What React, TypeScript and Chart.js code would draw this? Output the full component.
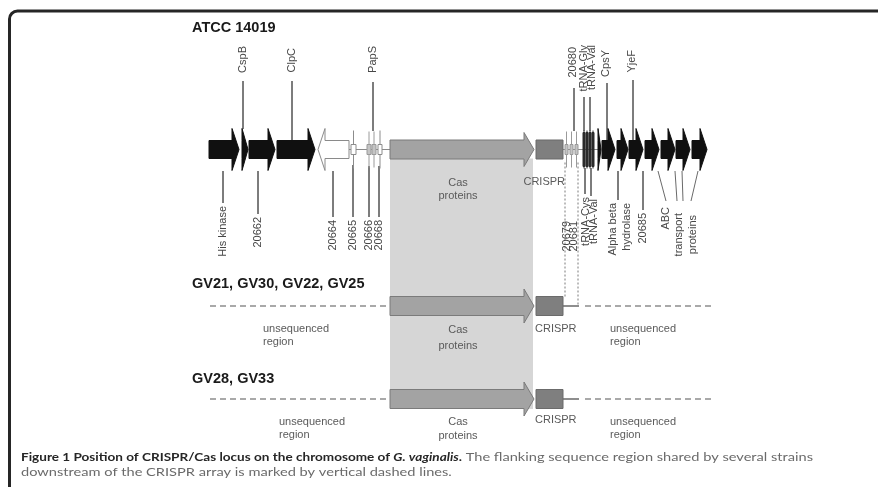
import React, { useEffect, useRef } from "react";
import { Chart, registerables } from "chart.js";

Chart.register(...registerables);

// ---------------- DATA ----------------
const STRAINS = ["ATCC 14019", "GV21, GV30, GV22, GV25", "GV28, GV33"];

// ATCC 14019 locus: genes along the chromosome (locus position units)
const GENE_NAMES = [
  "His kinase", "CspB", "20662", "ClpC", "20664", "20665", "PapS", "20666", "20668",
  "Cas proteins", "CRISPR", "20679", "20680", "20681", "tRNA-Gly", "tRNA-Cys", "tRNA-Val", "tRNA-Val",
  "orf", "CpsY", "Alpha beta hydrolase", "YjeF", "20685", "ABC transport 1", "ABC transport 2", "ABC transport 3",
];
const GENE_START = [209, 242, 249, 277, 318, 351, 367, 372, 378, 390, 536, 565, 570, 575, 583, 586, 589, 592, 598, 602, 617, 629, 645, 661, 676, 692];
const GENE_END = [239, 248, 275, 315, 349, 356, 371, 376, 382, 534, 563, 568, 573, 578, 585, 588, 591, 594, 601, 615, 628, 643, 659, 675, 690, 707];
const GENE_STRAND = [1, 1, 1, 1, -1, 0, 0, 0, 0, 1, 0, 0, 0, 0, 0, 0, 0, 0, 1, 1, 1, 1, 1, 1, 1, 1];
const GENE_KIND = [
  "black", "black", "black", "black", "white", "smallWhite", "smallGray", "smallGray", "smallWhite",
  "cas", "crispr", "smallGray", "smallGray", "smallGray", "trna", "trna", "trna", "trna",
  "black", "black", "black", "black", "black", "black", "black", "black",
];
const BACKBONE = [[349, 390], [563, 601]];

// other strains: genes shared with ATCC 14019 and flanking regions
const SHARED_GENES = [9, 10];
const SEQUENCED_FLANK = [563, 579];
const UNSEQ_LEFT = [210, 390];
const UNSEQ_RIGHT = [585, 714];
const SHARED_BOUNDARY = [565, 578];

// labels above / below ATCC 14019
const TOP_LABELS = ["CspB", "ClpC", "PapS", "20680", "tRNA-Gly", "tRNA-Val", "CpsY", "YjeF"];
const TOP_LABEL_X = [243, 292, 373, 573, 584, 592, 606, 632];
const TOP_LABEL_TOP = [46, 48, 46, 47, 45, 45, 50, 50];
const TOP_LEADER_X = [243, 292, 373, 574, 584, 590, 607, 633];
const TOP_LEADER_Y0 = [81, 81, 82, 88, 97, 97, 83, 80];
const TOP_LEADER_Y1 = [129, 140, 131, 131, 131, 131, 140, 140];

const BOTTOM_LABELS = ["His kinase", "20662", "20664", "20665", "20666", "20668", "20679", "20681", "tRNA-Cys", "tRNA-Val", "Alpha beta", "hydrolase", "20685", "ABC", "transport", "proteins"];
const BOTTOM_LABEL_X = [223, 258, 333, 353, 369, 379, 567, 574, 586, 594, 613, 627, 643, 666, 679, 693];
const BOTTOM_LABEL_TOP = [206, 217, 220, 220, 220, 220, 221, 221, 197, 199, 203, 203, 213, 207, 213, 215];
const BOTTOM_LEADERS = [
  [223, 171, 223, 203], [258, 171, 258, 214], [333, 171, 333, 217], [353, 165, 353, 217],
  [369, 166, 369, 217], [379, 166, 379, 217], [585, 168, 585, 194], [591, 168, 591, 196],
  [618, 171, 618, 200], [643, 171, 643, 210],
  [658, 171, 666, 201], [675, 171, 677, 201], [682, 171, 683, 201], [698, 171, 691, 201],
];

const CAPTION_BOLD = "Figure 1 Position of CRISPR/Cas locus on the chromosome of ";
const CAPTION_ITALIC = "G. vaginalis";
const CAPTION_REST1 = " The flanking sequence region shared by several strains";
const CAPTION_REST2 = "downstream of the CRISPR array is marked by vertical dashed lines.";

// ---------------- LAYOUT / STYLE ----------------
const W = 878;
const H = 487;
const ROW_Y = [149.5, 306, 399];
const ROW_TITLE_Y = [28, 284, 379];
const TITLE_X = 192;
const LABEL_FONT = "11px 'Liberation Sans', Arial, sans-serif";
const LABEL_COLOR = "#474747";
const NOTE_COLOR = "#5a5a5a";

const STYLE: Record<string, any> = {
  black: { fill: "#101010", stroke: "#101010", bh: 9, hh: 21, hl: 7 },
  white: { fill: "#ffffff", stroke: "#8a8a8a", bh: 9, hh: 21, hl: 7 },
  cas: { fill: "#a3a3a3", stroke: "#7b7b7b", bh: 9.5, hh: 17, hl: 10 },
  crispr: { fill: "#7f7f7f", stroke: "#6b6b6b", bh: 9.5, hh: 9.5, hl: 0 },
  smallGray: { fill: "#c4c4c4", stroke: "#9a9a9a", bh: 5, hh: 18, hl: 0 },
  smallWhite: { fill: "#ffffff", stroke: "#8c8c8c", bh: 5, hh: 19, hl: 0 },
  trna: { fill: "#2a2a2a", stroke: "#2a2a2a", bh: 17, hh: 19, hl: 0 },
};

function arrowPath(ctx: CanvasRenderingContext2D, x0: number, x1: number, yc: number, bh: number, hh: number, hl: number, strand: number) {
  ctx.beginPath();
  if (strand === 0 || hl === 0) {
    ctx.rect(x0, yc - bh, x1 - x0, 2 * bh);
    return;
  }
  const h = Math.min(hl, x1 - x0);
  if (strand > 0) {
    const b = x1 - h;
    ctx.moveTo(x0, yc - bh);
    ctx.lineTo(b, yc - bh);
    ctx.lineTo(b, yc - hh);
    ctx.lineTo(x1, yc);
    ctx.lineTo(b, yc + hh);
    ctx.lineTo(b, yc + bh);
    ctx.lineTo(x0, yc + bh);
  } else {
    const b = x0 + h;
    ctx.moveTo(x1, yc - bh);
    ctx.lineTo(b, yc - bh);
    ctx.lineTo(b, yc - hh);
    ctx.lineTo(x0, yc);
    ctx.lineTo(b, yc + hh);
    ctx.lineTo(b, yc + bh);
    ctx.lineTo(x1, yc + bh);
  }
  ctx.closePath();
}

function drawGene(ctx: CanvasRenderingContext2D, X: (v: number) => number, Y: (v: number) => number, i: number, row: number) {
  const st = STYLE[GENE_KIND[i]];
  const x0 = X(GENE_START[i]);
  const x1 = X(GENE_END[i]);
  const yc = Y(ROW_Y[row]);
  const kind = GENE_KIND[i];
  ctx.save();
  ctx.lineWidth = 1;
  if (kind === "smallGray" || kind === "smallWhite" || kind === "trna") {
    const xm = (x0 + x1) / 2;
    ctx.strokeStyle = st.stroke;
    ctx.beginPath();
    ctx.moveTo(xm, yc - st.hh);
    ctx.lineTo(xm, yc + st.hh);
    ctx.stroke();
  }
  arrowPath(ctx, x0, x1, yc, st.bh, st.hh, st.hl, GENE_STRAND[i]);
  ctx.fillStyle = st.fill;
  ctx.fill();
  ctx.strokeStyle = st.stroke;
  ctx.stroke();
  ctx.restore();
}

function vText(ctx: CanvasRenderingContext2D, text: string, x: number, y: number, align: CanvasTextAlign) {
  ctx.save();
  ctx.translate(x, y);
  ctx.rotate(-Math.PI / 2);
  ctx.textAlign = align;
  ctx.textBaseline = "middle";
  ctx.fillText(text, 0, 0);
  ctx.restore();
}

function hText(ctx: CanvasRenderingContext2D, lines: string[], x: number, y: number, align: CanvasTextAlign, gap: number) {
  ctx.textAlign = align;
  ctx.textBaseline = "middle";
  lines.forEach((l, k) => ctx.fillText(l, x, y + k * gap));
}

const diagramPlugin = {
  id: "geneDiagram",
  beforeDraw(chart: any) {
    const ctx = chart.ctx as CanvasRenderingContext2D;
    ctx.save();
    ctx.fillStyle = "#ffffff";
    ctx.fillRect(0, 0, chart.width, chart.height);
    ctx.restore();
  },
  beforeDatasetsDraw(chart: any) {
    const ctx = chart.ctx as CanvasRenderingContext2D;
    const X = (v: number) => chart.scales.x.getPixelForValue(v);
    const Y = (v: number) => chart.scales.y.getPixelForValue(v);
    const cas = SHARED_GENES[0];
    ctx.save();
    ctx.fillStyle = "#d6d6d6";
    const top = Y(ROW_Y[0] + 9);
    const bot = Y(ROW_Y[2] + 10);
    ctx.fillRect(X(GENE_START[cas]), top, X(GENE_END[cas] - 1) - X(GENE_START[cas]), bot - top);
    ctx.restore();
  },
  afterDatasetsDraw(chart: any) {
    const ctx = chart.ctx as CanvasRenderingContext2D;
    const X = (v: number) => chart.scales.x.getPixelForValue(v);
    const Y = (v: number) => chart.scales.y.getPixelForValue(v);

    for (let i = 0; i < GENE_START.length; i++) drawGene(ctx, X, Y, i, 0);
    for (const r of [1, 2]) for (const g of SHARED_GENES) drawGene(ctx, X, Y, g, r);

    ctx.save();
    ctx.fillStyle = "#1a1a1a";
    ctx.font = "bold 14.5px 'Liberation Sans', Arial, sans-serif";
    ctx.textBaseline = "middle";
    ctx.textAlign = "left";
    STRAINS.forEach((s, r) => ctx.fillText(s, X(TITLE_X), Y(ROW_TITLE_Y[r])));
    ctx.restore();

    ctx.save();
    ctx.font = LABEL_FONT;
    ctx.fillStyle = LABEL_COLOR;
    TOP_LABELS.forEach((t, k) => vText(ctx, t, X(TOP_LABEL_X[k]), Y(TOP_LABEL_TOP[k]), "right"));
    BOTTOM_LABELS.forEach((t, k) => vText(ctx, t, X(BOTTOM_LABEL_X[k]), Y(BOTTOM_LABEL_TOP[k]), "right"));
    ctx.restore();

    ctx.save();
    ctx.font = LABEL_FONT;
    ctx.fillStyle = NOTE_COLOR;
    const casMid = 458;
    hText(ctx, ["Cas", "proteins"], X(casMid), Y(183), "center", 13);
    hText(ctx, ["CRISPR"], X(565), Y(182), "right", 0);
    hText(ctx, ["unsequenced", "region"], X(263), Y(329), "left", 13);
    hText(ctx, ["Cas", "proteins"], X(casMid), Y(330), "center", 16);
    hText(ctx, ["CRISPR"], X(535), Y(329), "left", 0);
    hText(ctx, ["unsequenced", "region"], X(610), Y(329), "left", 13);
    hText(ctx, ["unsequenced", "region"], X(279), Y(422), "left", 13);
    hText(ctx, ["Cas", "proteins"], X(casMid), Y(422), "center", 14);
    hText(ctx, ["CRISPR"], X(535), Y(420), "left", 0);
    hText(ctx, ["unsequenced", "region"], X(610), Y(422), "left", 13);
    ctx.restore();
  },
  afterDraw(chart: any) {
    const ctx = chart.ctx as CanvasRenderingContext2D;
    const X = (v: number) => chart.scales.x.getPixelForValue(v);
    const Y = (v: number) => chart.scales.y.getPixelForValue(v);

    ctx.save();
    const fb = "bold 11.5px Lato, 'Open Sans', sans-serif";
    const fbi = "italic bold 11.5px Lato, 'Open Sans', sans-serif";
    const fr = "11.5px Lato, 'Open Sans', sans-serif";
    ctx.textBaseline = "middle";
    ctx.textAlign = "left";
    ctx.font = fb;
    const wb1 = ctx.measureText(CAPTION_BOLD).width;
    const wb3 = ctx.measureText(".").width;
    ctx.font = fbi;
    const wb2 = ctx.measureText(CAPTION_ITALIC).width;
    ctx.font = fr;
    const wr = ctx.measureText(CAPTION_REST1).width;
    const sb = (X(462) - X(21)) / (wb1 + wb2 + wb3);
    const sr = (X(813) - X(462)) / wr;
    const y1 = Y(457);
    const y2 = Y(472);
    ctx.fillStyle = "#262626";
    ctx.save();
    ctx.translate(X(21), y1);
    ctx.scale(sb, 1);
    ctx.font = fb;
    ctx.fillText(CAPTION_BOLD, 0, 0);
    ctx.font = fbi;
    ctx.fillText(CAPTION_ITALIC, wb1, 0);
    ctx.font = fb;
    ctx.fillText(".", wb1 + wb2, 0);
    ctx.restore();
    ctx.fillStyle = "#6a6a6a";
    ctx.font = fr;
    ctx.save();
    ctx.translate(X(462), y1);
    ctx.scale(sr, 1);
    ctx.fillText(CAPTION_REST1, 0, 0);
    ctx.restore();
    ctx.save();
    ctx.translate(X(21), y2);
    ctx.scale(sr, 1);
    ctx.fillText(CAPTION_REST2, 0, 0);
    ctx.restore();
    ctx.restore();

    ctx.save();
    ctx.strokeStyle = "#262626";
    ctx.lineWidth = 3;
    ctx.beginPath();
    ctx.moveTo(X(9.5), Y(H));
    ctx.lineTo(X(9.5), Y(19));
    ctx.arcTo(X(9.5), Y(11), X(17.5), Y(11), 8);
    ctx.lineTo(X(W), Y(11));
    ctx.stroke();
    ctx.restore();
  },
};

function buildDatasets() {
  const ds: any[] = [];
  const seg = (x0: number, y0: number, x1: number, y1: number, color: string, width: number, dash: number[] = []) =>
    ds.push({
      type: "line",
      data: [{ x: x0, y: y0 }, { x: x1, y: y1 }],
      borderColor: color,
      borderWidth: width,
      borderDash: dash,
      pointRadius: 0,
      fill: false,
      tension: 0,
    });
  BACKBONE.forEach(([a, b]) => seg(a, ROW_Y[0], b, ROW_Y[0], "#8a8a8a", 1));
  for (const r of [1, 2]) {
    seg(SEQUENCED_FLANK[0], ROW_Y[r], SEQUENCED_FLANK[1], ROW_Y[r], "#444444", 1.2);
    seg(UNSEQ_LEFT[0], ROW_Y[r], UNSEQ_LEFT[1], ROW_Y[r], "#555555", 1.2, [6, 4]);
    seg(UNSEQ_RIGHT[0], ROW_Y[r], UNSEQ_RIGHT[1], ROW_Y[r], "#555555", 1.2, [6, 4]);
  }
  seg(SHARED_BOUNDARY[0], ROW_Y[0] + 13, SHARED_BOUNDARY[0], ROW_Y[1] - 8, "#7a7a7a", 1, [2, 2]);
  seg(SHARED_BOUNDARY[1], ROW_Y[0] + 13, SHARED_BOUNDARY[1], ROW_Y[1], "#7a7a7a", 1, [2, 2]);
  TOP_LEADER_X.forEach((x, k) => seg(x, TOP_LEADER_Y0[k], x, TOP_LEADER_Y1[k], "#6a6a6a", 1));
  BOTTOM_LEADERS.forEach(([a, b, c, d]) => seg(a, b, c, d, "#6a6a6a", 1));
  return ds;
}

export default function App() {
  const ref = useRef<HTMLCanvasElement>(null);
  useEffect(() => {
    if (!ref.current) return;
    const chart = new Chart(ref.current, {
      type: "line",
      data: { datasets: buildDatasets() },
      options: {
        animation: false,
        responsive: false,
        events: [],
        layout: { padding: 0 },
        scales: {
          x: { type: "linear", min: 0, max: W, display: false },
          y: { type: "linear", min: 0, max: H, reverse: true, display: false },
        },
        plugins: { legend: { display: false }, tooltip: { enabled: false } },
      },
      plugins: [diagramPlugin],
    } as any);
    return () => chart.destroy();
  }, []);
  return (
    <div style={{ position: "fixed", left: 0, top: 0, width: W, height: H, background: "#fff" }}>
      <canvas ref={ref} width={W} height={H} style={{ display: "block" }} />
    </div>
  );
}
